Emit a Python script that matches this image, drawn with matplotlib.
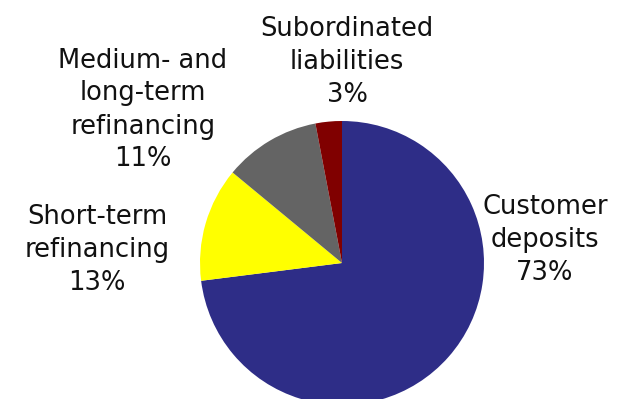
import matplotlib
matplotlib.use("Agg")
import matplotlib.pyplot as plt

# Funding structure shares (%)
labels = ["Customer\ndeposits", "Short-term\nrefinancing",
          "Medium- and\nlong-term\nrefinancing", "Subordinated\nliabilities"]
shares = [73, 13, 11, 3]
colors = ["#2E2D87", "#FFFF00", "#646464", "#800000"]

# where each label block is centred (figure pixels, y from bottom)
label_pos = [(545, 159), (97, 149), (143, 289), (347, 337)]

fig = plt.figure(figsize=(6.17, 3.99), dpi=100)
ax = fig.add_axes([0, 0, 1, 1])

ax.pie(shares, colors=colors, startangle=90, counterclock=False,
       center=(342, 136), radius=142, frame=True)
ax.set_xlim(0, 617)
ax.set_ylim(0, 399)
ax.set_aspect("equal")
ax.axis("off")

for lab, val, (x, y) in zip(labels, shares, label_pos):
    ax.text(x, y, f"{lab}\n{val}%", ha="center", va="center",
            fontsize=18.5, family="DejaVu Sans", linespacing=1.35,
            color="#111111")

fig.savefig("out.png", dpi=100)
